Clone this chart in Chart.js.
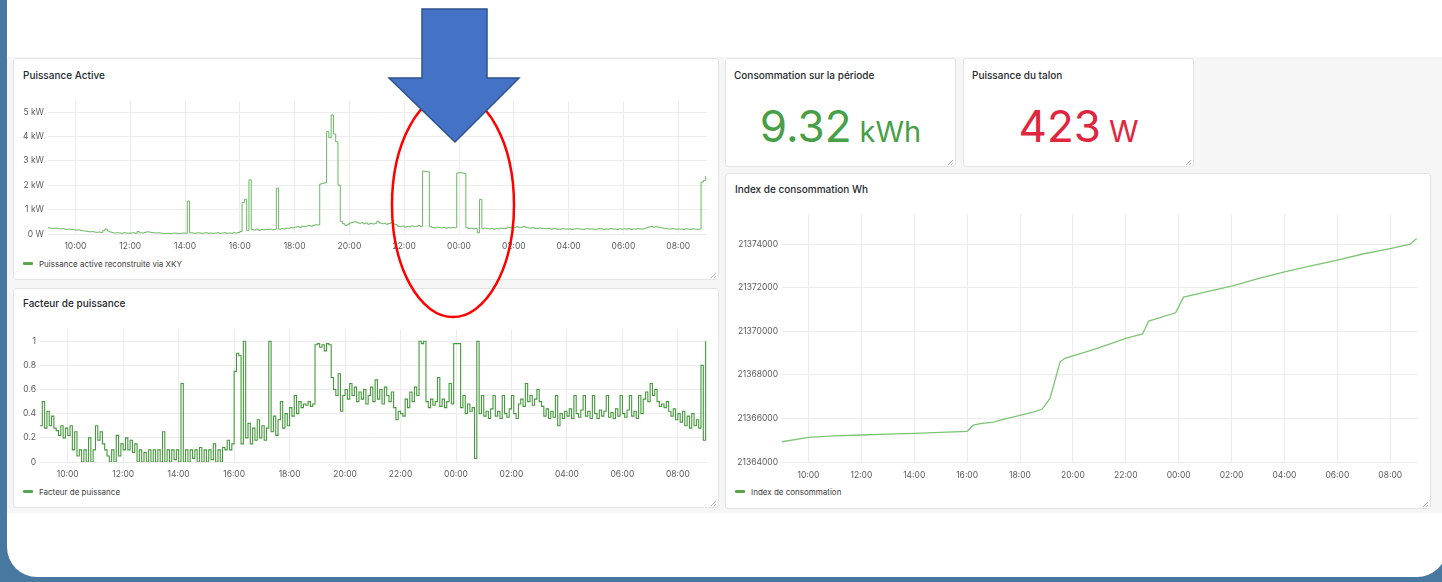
<!DOCTYPE html>
<html><head><meta charset="utf-8">
<script src="https://cdn.jsdelivr.net/npm/chart.js@4.4.1/dist/chart.umd.min.js"></script>
<style>
html,body{margin:0;padding:0;width:1442px;height:582px;overflow:hidden;background:#48789f;font-family:Inter,"Noto Sans",sans-serif;}
#frame{position:absolute;left:7px;top:-40px;width:1440px;height:617px;background:#fff;border-radius:0 0 30px 30px;}
#dash{position:absolute;left:7px;top:57px;width:1435px;height:456px;background:#f6f6f6;}
.panel{position:absolute;background:#fff;border:1px solid #e3e4e5;border-radius:3px;box-sizing:border-box;}
.title{position:absolute;font-size:10px;line-height:12px;font-weight:500;color:#24292e;white-space:nowrap;}
.legend{position:absolute;font-size:8px;line-height:10px;color:#3d3d3d;white-space:nowrap;}
.legend i{display:inline-block;width:10px;height:3px;background:#56a64b;border-radius:1px;vertical-align:middle;margin-right:6px;position:relative;top:-1px;}
.stat{position:absolute;white-space:nowrap;text-align:center;font-family:Inter,sans-serif;}
canvas{position:absolute;}
#ov{position:absolute;left:0;top:0;pointer-events:none;}
</style></head>
<body>
<div id="frame"></div>
<div id="dash"></div>

<div class="panel" style="left:13px;top:58px;width:706px;height:222px"></div>
<div class="panel" style="left:13px;top:288px;width:706px;height:220px"></div>
<div class="panel" style="left:725px;top:58px;width:231px;height:109px"></div>
<div class="panel" style="left:963px;top:58px;width:231px;height:109px"></div>
<div class="panel" style="left:725px;top:173px;width:706px;height:336px"></div>

<div class="title" style="left:23px;top:69px">Puissance Active</div>
<div class="title" style="left:23px;top:297px">Facteur de puissance</div>
<div class="title" style="left:734px;top:69px">Consommation sur la période</div>
<div class="title" style="left:972px;top:69px">Puissance du talon</div>
<div class="title" style="left:735px;top:183px">Index de consommation Wh</div>

<div class="stat" style="left:725px;top:98px;width:231px;color:#47a046"><span style="font-size:44px;line-height:56px">9.32</span><span style="font-size:29px;line-height:56px;margin-left:8px">kWh</span></div>
<div class="stat" style="left:963px;top:98px;width:231px;color:#e0263f"><span style="font-size:44px;line-height:56px">423</span><span style="font-size:30px;line-height:56px;margin-left:8px">W</span></div>

<canvas id="c1" width="700" height="163" style="left:14px;top:92px"></canvas>
<canvas id="c2" width="700" height="165" style="left:14px;top:320px"></canvas>
<canvas id="c3" width="702" height="280" style="left:727px;top:205px"></canvas>

<div class="legend" style="left:23px;top:259px"><i></i>Puissance active reconstruite via XKY</div>
<div class="legend" style="left:23px;top:487px"><i></i>Facteur de puissance</div>
<div class="legend" style="left:735px;top:487px"><i></i>Index de consommation</div>

<svg id="ov" width="1442" height="582">
  <g stroke="#b0b0b0" stroke-width="1">
    <line x1="711" y1="278" x2="716" y2="273"/><line x1="714" y1="278" x2="716" y2="276"/>
    <line x1="711" y1="506" x2="716" y2="501"/><line x1="714" y1="506" x2="716" y2="504"/>
    <line x1="948" y1="165" x2="953" y2="160"/><line x1="951" y1="165" x2="953" y2="163"/>
    <line x1="1186" y1="165" x2="1191" y2="160"/><line x1="1189" y1="165" x2="1191" y2="163"/>
    <line x1="1423" y1="507" x2="1428" y2="502"/><line x1="1426" y1="507" x2="1428" y2="505"/>
  </g>
  <ellipse cx="453" cy="205" rx="61" ry="112" fill="none" stroke="#ff0000" stroke-width="2.5"/>
  <polygon points="422,9 487,9 487,78 519,78 455,142 389,78 422,78" fill="#4472c4" stroke="#2f528f" stroke-width="1.5" stroke-linejoin="miter"/>
</svg>

<script>
// ---- DATA ----
// Sampling of the two left series: one value every 5 minutes, starting 09:00 (day 1) up to 09:00 (day 2)
const SAMPLE_STEP_MIN = 5;
const xTickLabels = ['10:00','12:00','14:00','16:00','18:00','20:00','22:00','00:00','02:00','04:00','06:00','08:00'];

// Puissance active (kW)
const puissanceKW = [
 0.25,0.24,0.23,0.24,0.22,0.21,0.22,0.20,0.19,0.20,0.18,0.17,
 0.16,0.17,0.15,0.13,0.12,0.10,0.09,0.10,0.08,0.07,0.08,0.06,
 0.14,0.20,0.12,0.08,0.05,0.04,0.05,0.04,0.03,0.05,0.04,0.03,
 0.04,0.05,0.03,0.10,0.05,0.04,0.06,0.09,0.08,0.06,0.05,0.04,
 0.05,0.04,0.03,0.02,0.03,0.02,0.03,0.04,0.03,0.02,0.03,0.04,
 0.03,1.35,0.05,0.04,0.03,0.05,0.04,0.03,0.04,0.05,0.03,0.04,
 0.03,0.04,0.05,0.03,0.04,0.05,0.03,0.04,0.03,0.05,0.04,0.06,
 0.10,1.30,1.42,0.15,2.22,0.18,0.16,0.20,0.15,0.18,0.17,0.19,
 0.18,0.20,0.17,0.19,1.88,0.20,0.22,0.21,0.24,0.23,0.26,0.25,
 0.28,0.30,0.27,0.32,0.30,0.33,0.35,0.32,0.36,0.38,0.37,2.05,
 2.08,2.10,4.20,3.95,4.88,4.10,3.78,2.00,0.52,0.42,0.35,0.40,
 0.45,0.48,0.50,0.47,0.44,0.46,0.42,0.45,0.40,0.43,0.41,0.44,
 0.52,0.45,0.42,0.44,0.40,0.43,0.46,0.41,0.38,0.32,0.30,0.33,
 0.28,0.31,0.29,0.33,0.30,0.32,0.35,0.30,2.58,2.56,2.55,0.30,
 0.27,0.25,0.28,0.26,0.25,0.27,0.24,0.26,0.25,0.27,0.26,2.50,
 2.52,2.50,2.48,0.26,0.22,0.24,0.21,0.23,0.05,1.42,0.22,0.24,
 0.22,0.21,0.23,0.20,0.22,0.21,0.24,0.22,0.23,0.28,0.26,0.29,
 0.27,0.30,0.26,0.28,0.31,0.27,0.25,0.24,0.26,0.23,0.22,0.24,
 0.23,0.22,0.21,0.23,0.20,0.22,0.21,0.19,0.20,0.22,0.21,0.20,
 0.21,0.19,0.20,0.22,0.21,0.20,0.19,0.21,0.22,0.20,0.21,0.19,
 0.20,0.22,0.21,0.19,0.21,0.20,0.22,0.21,0.20,0.19,0.21,0.20,
 0.21,0.20,0.22,0.19,0.21,0.20,0.22,0.21,0.20,0.23,0.26,0.29,
 0.31,0.28,0.30,0.27,0.26,0.24,0.22,0.21,0.20,0.22,0.21,0.20,
 0.21,0.20,0.19,0.21,0.20,0.19,0.21,0.20,0.19,0.20,2.13,2.20,
 2.37
];

// Facteur de puissance
const facteurPuissance = [
 0.30,0.50,0.28,0.42,0.30,0.38,0.28,0.26,0.22,0.30,0.20,0.28,
 0.22,0.30,0.10,0.25,0.05,0.10,0.00,0.10,0.00,0.20,0.00,0.10,
 0.30,0.18,0.25,0.15,0.10,0.05,0.00,0.10,0.00,0.22,0.05,0.15,
 0.10,0.20,0.10,0.18,0.08,0.15,0.00,0.10,0.00,0.08,0.00,0.10,
 0.00,0.10,0.00,0.10,0.00,0.25,0.00,0.10,0.00,0.10,0.02,0.10,
 0.00,0.65,0.00,0.10,0.00,0.10,0.03,0.10,0.00,0.12,0.00,0.10,
 0.00,0.10,0.02,0.15,0.00,0.10,0.00,0.12,0.10,0.18,0.10,0.15,
 0.75,0.90,0.88,0.15,1.00,0.20,0.32,0.15,0.28,0.18,0.35,0.20,
 0.30,0.18,0.28,1.00,0.25,0.38,0.22,0.35,0.50,0.28,0.40,0.30,
 0.45,0.38,0.55,0.40,0.50,0.45,0.48,0.47,0.50,0.46,0.48,0.97,
 0.98,0.95,0.97,0.92,0.98,0.97,0.70,0.60,0.55,0.73,0.42,0.55,
 0.60,0.52,0.65,0.55,0.62,0.50,0.58,0.52,0.60,0.48,0.55,0.62,
 0.50,0.68,0.52,0.60,0.48,0.62,0.55,0.50,0.58,0.45,0.35,0.42,
 0.40,0.38,0.52,0.45,0.58,0.50,0.62,0.55,1.00,0.98,1.00,0.50,
 0.45,0.52,0.47,0.50,0.70,0.46,0.52,0.45,0.50,0.65,0.48,0.98,
 0.98,0.98,0.45,0.55,0.40,0.48,0.42,0.45,0.03,1.00,0.40,0.55,
 0.38,0.42,0.36,0.44,0.55,0.38,0.42,0.36,0.55,0.40,0.37,0.44,
 0.55,0.40,0.36,0.48,0.52,0.46,0.65,0.50,0.55,0.47,0.52,0.60,
 0.50,0.46,0.38,0.44,0.36,0.42,0.37,0.55,0.30,0.40,0.36,0.42,
 0.38,0.44,0.36,0.55,0.40,0.37,0.43,0.55,0.38,0.42,0.36,0.55,
 0.40,0.36,0.43,0.38,0.42,0.55,0.37,0.41,0.36,0.44,0.38,0.55,
 0.40,0.37,0.43,0.55,0.38,0.42,0.36,0.55,0.40,0.52,0.58,0.50,
 0.65,0.55,0.60,0.50,0.46,0.48,0.45,0.50,0.42,0.38,0.44,0.35,
 0.40,0.33,0.42,0.30,0.38,0.28,0.40,0.30,0.35,0.28,0.80,0.18,
 1.00
];

// Index de consommation (Wh)
const indexTimes = ['09:00','10:00','11:00','12:00','13:00','14:00','15:00','16:00','16:14','16:30','17:00','17:20',
 '18:00','18:30','18:50','19:08','19:31','19:42','20:30','21:00','22:00','22:38','22:52','23:53','00:11','01:00',
 '02:00','03:00','04:00','05:00','06:00','07:00','08:00','08:45','09:00'];
const indexWh = [21364930,21365130,21365200,21365240,21365280,21365310,21365360,21365410,21365690,21365760,21365830,21365940,
 21366140,21366290,21366420,21366920,21368600,21368760,21369060,21369250,21369670,21369880,21370470,21370850,21371570,21371800,
 21372070,21372420,21372730,21373000,21373270,21373560,21373800,21374000,21374260];

const puissanceYTicks = [0,1,2,3,4,5];
const facteurYTicks = [0,0.2,0.4,0.6,0.8,1];
const indexYTicks = [21364000,21366000,21368000,21370000,21372000,21374000];

// ---- helpers ----
function toMinutesSeq(labels){ // minutes since 09:00 of day 1, following the day rollover
  let prev=-1; return labels.map(l=>{const [h,m]=l.split(':').map(Number); let v=h*60+m-540; while(v<=prev) v+=1440; prev=v; return v;});
}
const xTickValues = toMinutesSeq(xTickLabels);
const X_MIN = 0, X_MAX = 1443;

Chart.defaults.font.family = 'Inter, "Noto Sans", sans-serif';
Chart.defaults.font.size = 8.5;
Chart.defaults.color = '#5a5a5a';

function opts(c){
  return {
    responsive:false, animation:false, devicePixelRatio:1,
    layout:{padding:{top:c.padTop,right:c.padRight,left:0,bottom:0}},
    plugins:{legend:{display:false},tooltip:{enabled:false}},
    elements:{point:{radius:0}},
    scales:{
      x:{type:'linear',min:X_MIN,max:X_MAX,
        grid:{color:'#ececec',lineWidth:1,drawTicks:false},border:{display:false},
        afterBuildTicks:s=>{s.ticks=xTickValues.map(v=>({value:v}));},
        afterFit:s=>{s.height=c.xH;},
        ticks:{autoSkip:false,maxRotation:0,padding:c.xPad,callback:(v,i)=>xTickLabels[i]}},
      y:{min:c.yMin,max:c.yMax,
        grid:{color:'#ececec',lineWidth:1,drawTicks:false},border:{display:false},
        afterBuildTicks:s=>{s.ticks=c.yTicks.map(v=>({value:v}));},
        afterFit:s=>{s.width=c.yW;},
        ticks:{padding:4,callback:c.yFmt}}
    }
  };
}
function seriesFromSamples(vals){ return vals.map((v,i)=>({x:i*SAMPLE_STEP_MIN,y:v})); }

new Chart(document.getElementById('c1'),{
  type:'line',
  data:{datasets:[{label:'Puissance active reconstruite via XKY',data:seriesFromSamples(puissanceKW),
    borderColor:'#6bb863',borderWidth:1,stepped:true,fill:false}]},
  options:opts({padTop:8,padRight:7,xH:21,xPad:7,yW:34,yMin:0,yMax:5.45,yTicks:puissanceYTicks,
    yFmt:v=>v===0?'0 W':v+' kW'})
});
new Chart(document.getElementById('c2'),{
  type:'line',
  data:{datasets:[{label:'Facteur de puissance',data:seriesFromSamples(facteurPuissance),
    borderColor:'#46993d',borderWidth:1.1,stepped:true,fill:false}]},
  options:opts({padTop:9,padRight:7,xH:23,xPad:7,yW:26,yMin:0,yMax:1.1,yTicks:facteurYTicks,
    yFmt:v=>String(v)})
});
const idxMin = toMinutesSeq(indexTimes);
new Chart(document.getElementById('c3'),{
  type:'line',
  data:{datasets:[{label:'Index de consommation',data:indexWh.map((v,i)=>({x:idxMin[i],y:v})),
    borderColor:'#7cc574',borderWidth:1.3,fill:false,tension:0}]},
  options:opts({padTop:9,padRight:11,xH:23,xPad:8,yW:55,yMin:21364000,yMax:21375380,yTicks:indexYTicks,
    yFmt:v=>String(v)})
});
</script>
</body></html>
